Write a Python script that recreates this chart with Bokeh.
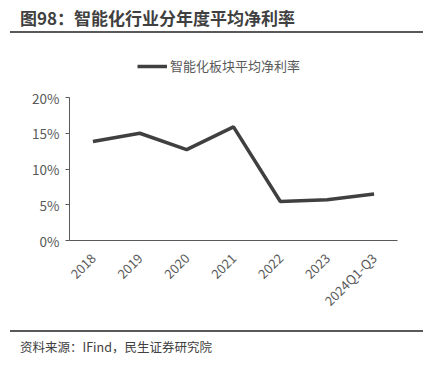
from bokeh.plotting import figure
from bokeh.models import Legend, LegendItem, NumeralTickFormatter, Div, Range1d
from bokeh.layouts import column
from bokeh.embed import file_html
from bokeh.resources import INLINE
import math

categories = ["2018", "2019", "2020", "2021", "2022", "2023", "2024Q1-Q3"]
net_margin = [0.1385, 0.150, 0.127, 0.159, 0.0545, 0.057, 0.065]
y_ticks = [0, 0.05, 0.1, 0.15, 0.2]
series_name = "智能化板块平均净利率"
title_text = "图98：智能化行业分年度平均净利率"
source_text = "资料来源：IFind，民生证券研究院"

FONT = "Noto Sans CJK SC"
W = 438
TOP_H, MAIN_H, BOT_H = 33, 297, 28

title_div = Div(
    text=(f'<div style="box-sizing:border-box;width:413px;height:{TOP_H}px;'
          f'padding-left:10px;line-height:36px;border-bottom:2px solid #595959;'
          f'font-family:\'{FONT}\';font-size:17px;font-weight:bold;color:#404040;'
          f'white-space:nowrap;overflow:visible;">{title_text}</div>'),
    width=413, height=TOP_H, margin=(0, 0, 0, 10))

# frame (page px): left 69, right 397, top 45 (room for legend), bottom 240; 20% at y=97
ML, MR = 69, W - 397
FRAME_TOP, Y0, Y20 = 45, 240, 97
MT = FRAME_TOP - TOP_H
MB = (TOP_H + MAIN_H) - Y0
y_end = y_ticks[-1] * (Y0 - FRAME_TOP) / (Y0 - Y20)

p = figure(width=W, height=MAIN_H, x_range=categories, y_range=Range1d(0, y_end),
           output_backend="svg", toolbar_location=None,
           min_border_left=ML, min_border_right=MR,
           min_border_top=MT, min_border_bottom=MB, margin=0)
p.outline_line_color = None
p.xgrid.grid_line_color = None
p.ygrid.grid_line_color = None

r = p.line(categories, net_margin, line_color="#404040", line_width=3.5)

p.yaxis.ticker = y_ticks
p.yaxis.bounds = (y_ticks[0], y_ticks[-1])
p.yaxis.formatter = NumeralTickFormatter(format="0%")
for ax in (p.xaxis[0], p.yaxis[0]):
    ax.axis_line_color = "#595959"
    ax.axis_line_width = 1
    ax.major_label_text_color = "#595959"
    ax.major_label_text_font = FONT
    ax.minor_tick_line_color = None
p.yaxis.major_label_text_font_size = "13.5px"
p.yaxis.major_tick_line_color = "#595959"
p.yaxis.major_tick_out = 4
p.yaxis.major_tick_in = 0
p.yaxis.major_label_standoff = 6
p.xaxis.major_tick_line_color = None
p.xaxis.major_label_text_font_size = "13px"
p.xaxis.major_label_orientation = math.pi / 4
p.xaxis.major_label_standoff = 9

legend = Legend(items=[LegendItem(label=series_name, renderers=[r])],
                location=(137 - ML, (Y0 - 66) - 9), orientation="horizontal",
                label_text_font=FONT, label_text_font_size="13px",
                label_text_color="#595959", glyph_width=30, glyph_height=14,
                border_line_color=None, background_fill_alpha=0,
                label_standoff=3, padding=0, margin=0)
p.add_layout(legend, "center")

source_div = Div(
    text=(f'<div style="box-sizing:border-box;width:413px;height:{BOT_H}px;'
          f'padding-left:10px;line-height:30px;border-top:2px solid #595959;'
          f'font-family:\'{FONT}\';font-size:12.5px;color:#404040;'
          f'white-space:nowrap;">{source_text}</div>'),
    width=413, height=BOT_H, margin=(0, 0, 0, 10))

layout = column(title_div, p, source_div, spacing=0)
open("out.html", "w").write(file_html(layout, INLINE))
